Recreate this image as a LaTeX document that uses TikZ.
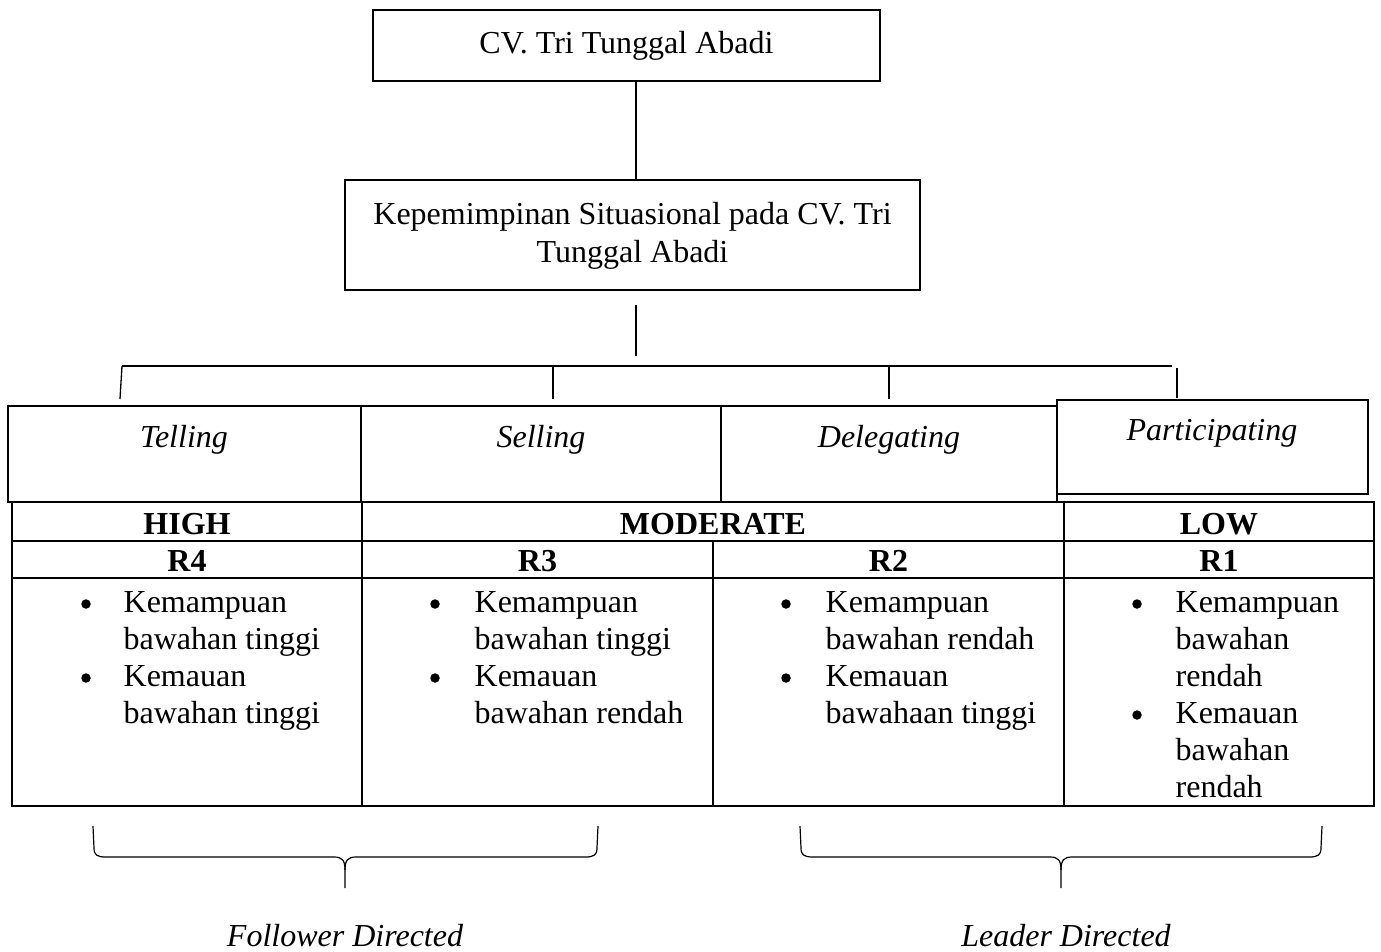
\documentclass[tikz,border=0pt]{standalone}
\usepackage{fontspec}
\setmainfont{Liberation Serif}
\begin{document}
\begin{tikzpicture}[x=1pt,y=-1pt,line width=1.3pt,
  txt/.style={font=\fontsize{32}{37}\selectfont,inner sep=0pt,anchor=base},
  itxt/.style={txt,font=\fontsize{32}{37}\selectfont\itshape},
  btxt/.style={txt,font=\fontsize{32}{37}\selectfont\bfseries},
  ltxt/.style={txt,anchor=base west},
  dot/.style={circle,fill=black,inner sep=0pt,minimum size=9.5pt},
  box/.style={draw,inner sep=0pt,font=\fontsize{32}{37}\selectfont,align=center},
  tbl/.style={line width=2pt}]
\useasboundingbox (0,0) rectangle (1381,951);
% top boxes
\node[box,minimum width=507pt,minimum height=71pt] (cv) at (626.5,45.5) {CV. Tri Tunggal Abadi};
\node[box,minimum width=575pt,minimum height=110pt] (kep) at (632.5,235) {\rule{0pt}{24pt}Kepemimpinan Situasional pada CV. Tri\\[1pt]Tunggal Abadi};
\draw (cv.south -| 636,0) -- (kep.north -| 636,0);
\coordinate (v1) at (636,305);
\coordinate (v2) at (636,356);
\draw (v1) -- (v2);
\coordinate (hl) at (122,366);
\coordinate (hr) at (1172,366);
\draw (hl) -- (hr);
\coordinate (t1a) at (122,366); \coordinate (t1b) at (120,399);
\coordinate (t2a) at (553,366); \coordinate (t2b) at (553,399);
\coordinate (t3a) at (889,366); \coordinate (t3b) at (889,399);
\coordinate (t4a) at (1177,368); \coordinate (t4b) at (1177,398);
\draw (t1a) -- (t1b); \draw (t2a) -- (t2b); \draw (t3a) -- (t3b); \draw (t4a) -- (t4b);
% style boxes
\node[box,minimum width=353pt,minimum height=96pt] (tellB) at (184.5,454) {};
\node[box,minimum width=360pt,minimum height=96pt] (sellB) at (541,454) {};
\node[box,minimum width=336pt,minimum height=96pt] (delB) at (889,454) {};
\node[box,fill=white,minimum width=311pt,minimum height=94pt] (parB) at (1212.5,447) {};
\node[itxt] (tellT) at (184,447) {Telling};
\node[itxt] (sellT) at (541,447) {Selling};
\node[itxt] (delT) at (889,447) {Delegating};
\node[itxt] (parT) at (1212,440) {Participating};
% table
\draw[tbl] (12,502) rectangle (1374,806);
\draw[line width=1.5pt] (12,541) -- (1374,541);
\draw[line width=1.5pt] (12,578) -- (1374,578);
\draw[line width=1.5pt] (362,502) -- (362,806);
\draw[line width=1.5pt] (1064,502) -- (1064,806);
\draw[line width=1.5pt] (713,541) -- (713,806);
\node[btxt] (high) at (187,534) {HIGH};
\node[btxt] (mod) at (713,534) {MODERATE};
\node[btxt] (low) at (1219,534) {LOW};
\node[btxt] (r4) at (187,571) {R4};
\node[btxt] (r3) at (537.5,571) {R3};
\node[btxt] (r2) at (888.5,571) {R2};
\node[btxt] (r1) at (1219,571) {R1};
% column 1
\node[dot] (b11) at (86,604) {};
\node[dot] (b12) at (86,678) {};
\node[ltxt] (c11) at (123,612) {Kemampuan};
\node[ltxt] (c12) at (123,649) {bawahan tinggi};
\node[ltxt] (c13) at (123,686) {Kemauan};
\node[ltxt] (c14) at (123,723) {bawahan tinggi};
% column 2
\node[dot] (b21) at (435,604) {};
\node[dot] (b22) at (435,678) {};
\node[ltxt] (c21) at (474,612) {Kemampuan};
\node[ltxt] (c22) at (474,649) {bawahan tinggi};
\node[ltxt] (c23) at (474,686) {Kemauan};
\node[ltxt] (c24) at (474,723) {bawahan rendah};
% column 3
\node[dot] (b31) at (786,604) {};
\node[dot] (b32) at (786,678) {};
\node[ltxt] (c31) at (825,612) {Kemampuan};
\node[ltxt] (c32) at (825,649) {bawahan rendah};
\node[ltxt] (c33) at (825,686) {Kemauan};
\node[ltxt] (c34) at (825,723) {bawahaan tinggi};
% column 4
\node[dot] (b41) at (1137,604) {};
\node[dot] (b42) at (1137,715) {};
\node[ltxt] (c41) at (1175,612) {Kemampuan};
\node[ltxt] (c42) at (1175,649) {bawahan};
\node[ltxt] (c43) at (1175,686) {rendah};
\node[ltxt] (c44) at (1175,723) {Kemauan};
\node[ltxt] (c45) at (1175,760) {bawahan};
\node[ltxt] (c46) at (1175,797) {rendah};
% braces
\draw[line width=1.2pt] (93,826) -- (94,848) .. controls (94,855) and (97,857) .. (106,857) -- (334,857) .. controls (342,857) and (345,860) .. (345,870) -- (345,888);
\draw[line width=1.2pt] (598,826) -- (597,848) .. controls (597,855) and (594,857) .. (585,857) -- (356,857) .. controls (348,857) and (345,860) .. (345,870);
\draw[line width=1.2pt] (800,826) -- (801,848) .. controls (801,855) and (804,857) .. (813,857) -- (1050,857) .. controls (1058,857) and (1061,860) .. (1061,870) -- (1061,888);
\draw[line width=1.2pt] (1322,826) -- (1321,848) .. controls (1321,855) and (1318,857) .. (1309,857) -- (1072,857) .. controls (1064,857) and (1061,860) .. (1061,870);
\node[itxt] (fol) at (345,946) {Follower Directed};
\node[itxt] (lead) at (1066,946) {Leader Directed};
\end{tikzpicture}
\end{document}
